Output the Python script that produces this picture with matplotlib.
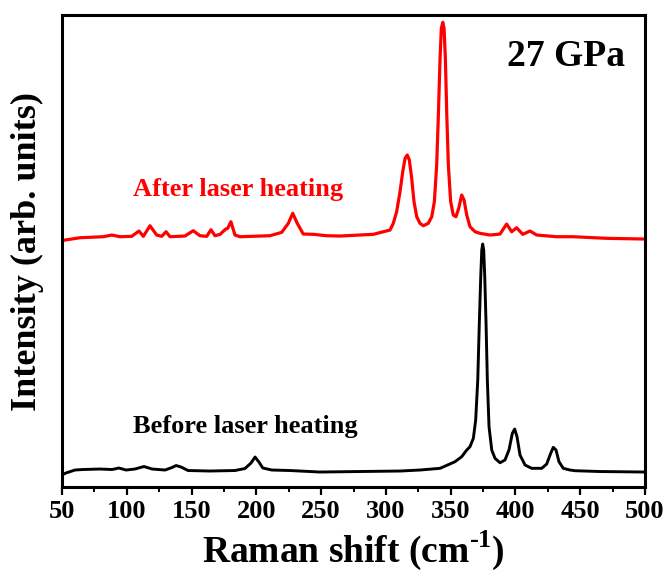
#!/usr/bin/env python3
"""Raman spectra at 27 GPa before and after laser heating."""
import matplotlib
matplotlib.use("Agg")
import matplotlib.pyplot as plt
from matplotlib.ticker import MultipleLocator

# before laser heating (black)
before_x = [50, 53, 60, 66, 79.3, 88.6, 94, 99.4, 106.3, 113.3, 119.5, 129.5, 134.9, 138,
            141.9, 147.3, 164.2, 183.5, 191.2, 195.9, 199, 202, 205, 212, 226, 249, 280,
            311, 326.3, 341.8, 353.3, 358.5, 362.4, 364.9, 367.5, 369.3, 370.9, 372.1,
            373.2, 374, 374.7, 375.5, 376.3, 377.3, 378.3, 379.6, 381.7, 384.2, 388.1,
            391.9, 395, 397.6, 399.4, 401.2, 403.5, 407.4, 412.5, 420.3, 424.1, 427.2,
            429.2, 431.3, 433.6, 436.9, 442.1, 446, 465.3, 500]
before_y = [12, 14, 17, 17.5, 18, 17.5, 19, 17, 18, 20.5, 18, 17, 19.5, 21.5,
            20, 16.5, 16, 16.5, 18.5, 24, 30, 25, 19, 17, 16.5, 15, 15.5,
            16, 17, 18.7, 25.3, 30.3, 37, 40.3, 48.7, 67, 107, 163.7,
            210.3, 237, 243, 237, 210.3, 163.7, 107, 60.3, 37, 28.7, 24.3,
            27, 37, 53.7, 58, 50.3, 32, 22, 18.7, 18.7, 23, 33.7,
            39.7, 37, 25.3, 18.7, 17, 16.3, 15.5, 15]

# after laser heating (red)
after_x = [50, 63.9, 81.9, 88.4, 94.8, 103.8, 109.4, 112.8, 117.9, 123.1, 127, 130.3, 133.4,
           144.9, 151.3, 156.5, 161.7, 165, 168.1, 172, 176.4, 177.9, 180.4, 183.5, 187.4,
           210.5, 219.6, 224.7, 228.1, 231.6, 236.2, 244, 254.3, 264.6, 290.3, 303.2, 305.7,
           308.3, 310.9, 313, 314.8, 316.5, 318.1, 319.9, 321.7, 323.8, 326.3, 328.9, 332.7,
           335.4, 337.4, 339.2, 340.5, 341.8, 342.8, 343.9, 344.9, 345.9, 347, 348.2, 350,
           352, 354.1, 356.2, 358.5, 360.3, 362.4, 364.9, 368.8, 372.6, 380.4, 388.1, 393.2,
           397.1, 400.9, 405.6, 411.2, 416.4, 431.8, 444.7, 470.4, 500]
after_y = [16.5, 19.3, 20.3, 22, 20.3, 20.7, 26, 20.7, 31.3, 22, 20.7, 25.3, 20.3,
           21, 26.3, 21.3, 20.7, 27.3, 21.3, 22.7, 28, 28.7, 35.3, 22, 20.3,
           21.3, 24.7, 33.7, 43.7, 33.7, 23, 22.7, 21.3, 21, 22.7, 27, 33.7,
           45.3, 65.3, 85.3, 98.7, 102, 97, 78.7, 55.3, 40.3, 33.7, 31.3, 33.7,
           40.3, 55.3, 92, 142, 198.7, 228.7, 234.7, 228.7, 198.7, 142, 92, 55.3,
           42, 40.3, 48.7, 62, 57, 42, 30.3, 25.3, 23.7, 22, 23, 33,
           25.3, 29.3, 22.7, 26, 22, 20.3, 20.3, 18.7, 18]

OFFSET = 230  # vertical stacking of the red spectrum

plt.rcParams["font.family"] = ["Liberation Serif", "DejaVu Serif"]
plt.rcParams["font.weight"] = "bold"
plt.rcParams["mathtext.fontset"] = "custom"
plt.rcParams["mathtext.rm"] = "Liberation Serif:bold"
plt.rcParams["mathtext.bf"] = "Liberation Serif:bold"

fig = plt.figure(figsize=(6.68, 5.78), dpi=100)
ax = fig.add_axes([0.0928, 0.1574, 0.8728, 0.8166])

ax.plot(before_x, before_y, color="black", lw=2.1, solid_joinstyle="round")
ax.plot(after_x, [v + OFFSET for v in after_y], color="#ff0000", lw=2.3,
        solid_joinstyle="round")

ax.text(185.8, 291, "After laser heating", color="#ff0000", fontsize=19,
        fontweight="bold", ha="center", va="baseline")
ax.text(191.3, 54, "Before laser heating", color="black", fontsize=19,
        fontweight="bold", ha="center", va="baseline")
ax.text(439, 421, "27 GPa", color="black", fontsize=27, fontweight="bold",
        ha="center", va="baseline")

ax.set_xlim(50, 500)
ax.set_ylim(0, 472)
ax.xaxis.set_major_locator(MultipleLocator(50))
ax.xaxis.set_minor_locator(MultipleLocator(25))
ax.set_yticks([])
ax.tick_params(axis="x", which="major", length=6, width=1.6, labelsize=19, pad=3)
ax.tick_params(axis="x", which="minor", length=3.5, width=1.4)
for lab in ax.get_xticklabels():
    lab.set_fontweight("bold")
for s in ax.spines.values():
    s.set_linewidth(2.2)

ax.set_xlabel(r"Raman shift (cm$^{\text{-1}}$)", fontsize=27, fontweight="bold", labelpad=4)
ax.set_ylabel("Intensity (arb. units)", fontsize=26, fontweight="bold", labelpad=13)

fig.savefig("out.png", dpi=100)
